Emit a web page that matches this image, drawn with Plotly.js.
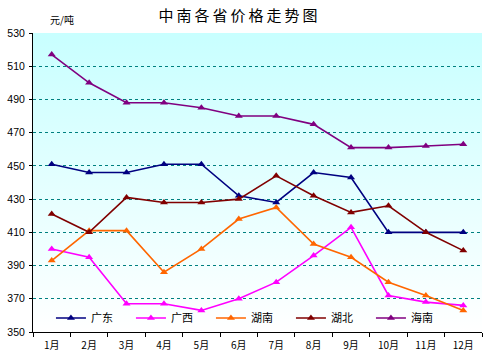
<!DOCTYPE html>
<html>
<head>
<meta charset="utf-8">
<script src="https://cdn.plot.ly/plotly-3.0.1.min.js"></script>
<style>html,body{margin:0;padding:0;background:#fff;}#chart{width:500px;height:355px;}</style>
</head>
<body>
<div id="chart"></div>
<script>
var months = ["1月","2月","3月","4月","5月","6月","7月","8月","9月","10月","11月","12月"];
var guangdong = [451,446,446,451,451,432,428,446,443,410,410,410];
var guangxi   = [400,395,367,367,363,370,380,396,413,372,368,366];
var hunan     = [393,411,411,386,400,418,425,403,395,380,372,363];
var hubei     = [421,410,431,428,428,430,444,432,422,426,410,399];
var hainan    = [517,500,488,488,485,480,480,475,461,461,462,463];
var seriesNames = ["广东","广西","湖南","湖北","海南"];
var seriesData = [guangdong, guangxi, hunan, hubei, hainan];
var colors = ["#000080","#FF00FF","#FF6600","#800000","#800080"];
var yTicks = [350,370,390,410,430,450,470,490,510,530];

var traces = seriesData.map(function(d,i){
  return {
    x: months, y: d, name: seriesNames[i], type: "scatter", mode: "lines+markers",
    line: {color: colors[i], width: 1.6},
    marker: {symbol: "triangle-up", size: 7, color: colors[i]}
  };
});

var svg = '<svg xmlns="http://www.w3.org/2000/svg" width="100" height="100" preserveAspectRatio="none"><defs><linearGradient id="g" x1="0" y1="0" x2="0" y2="1"><stop offset="0" stop-color="#C8FFFF"/><stop offset="1" stop-color="#FFFFFF"/></linearGradient></defs><rect width="100" height="100" fill="url(#g)"/></svg>';
var src = "data:image/svg+xml;base64," + btoa(svg);

var fontFam = "Arial, 'Liberation Sans', 'Noto Sans CJK SC', sans-serif";
var layout = {
  width: 500, height: 355,
  margin: {l: 33, r: 18, t: 33, b: 23, pad: 0},
  paper_bgcolor: "#FFFFFF",
  plot_bgcolor: "rgba(0,0,0,0)",
  font: {family: fontFam, size: 10, color: "#000"},
  title: {text: "中\u2009南\u2009各\u2009省\u2009价\u2009格\u2009走\u2009势\u2009图", x: 0.476, xanchor: "center", y: 0.955, yanchor: "middle",
          font: {family: "'Noto Sans CJK SC', sans-serif", size: 15, color: "#000"}},
  images: [{source: src, xref: "paper", yref: "paper", x: 0, y: 1, sizex: 1, sizey: 1,
            xanchor: "left", yanchor: "top", sizing: "stretch", layer: "below"}],
  xaxis: {
    type: "category", tickvals: months, range: [-0.5, 11.5],
    showline: true, linecolor: "#000", linewidth: 1,
    ticks: "outside", ticklen: 4, tickcolor: "#000", tickson: "boundaries",
    showgrid: false, zeroline: false, ticklabelstandoff: 4,
    tickfont: {family: "'Noto Sans CJK SC', sans-serif", size: 10}
  },
  yaxis: {
    range: [350, 530], tickvals: yTicks, showline: true, linecolor: "#000", linewidth: 1,
    ticks: "outside", ticklen: 3, tickcolor: "#000",
    showgrid: true, gridcolor: "#008080", griddash: "dot", gridwidth: 1,
    zeroline: false, tickfont: {size: 10.5}, ticklabelstandoff: 2
  },
  legend: {orientation: "h", x: 0.04, y: 0.047, xanchor: "left", yanchor: "middle",
           bgcolor: "rgba(0,0,0,0)", entrywidth: 35, entrywidthmode: "pixels",
           font: {family: "'Noto Sans CJK SC', sans-serif", size: 11}, itemwidth: 30},
  annotations: [{text: "元/吨", xref: "paper", yref: "paper", x: 0.065, y: 1.045,
                 showarrow: false, xanchor: "center", yanchor: "middle",
                 font: {family: "'Noto Sans CJK SC', sans-serif", size: 10}}],
  showlegend: true
};
Plotly.newPlot("chart", traces, layout, {displayModeBar: false, staticPlot: true});
</script>
</body>
</html>
